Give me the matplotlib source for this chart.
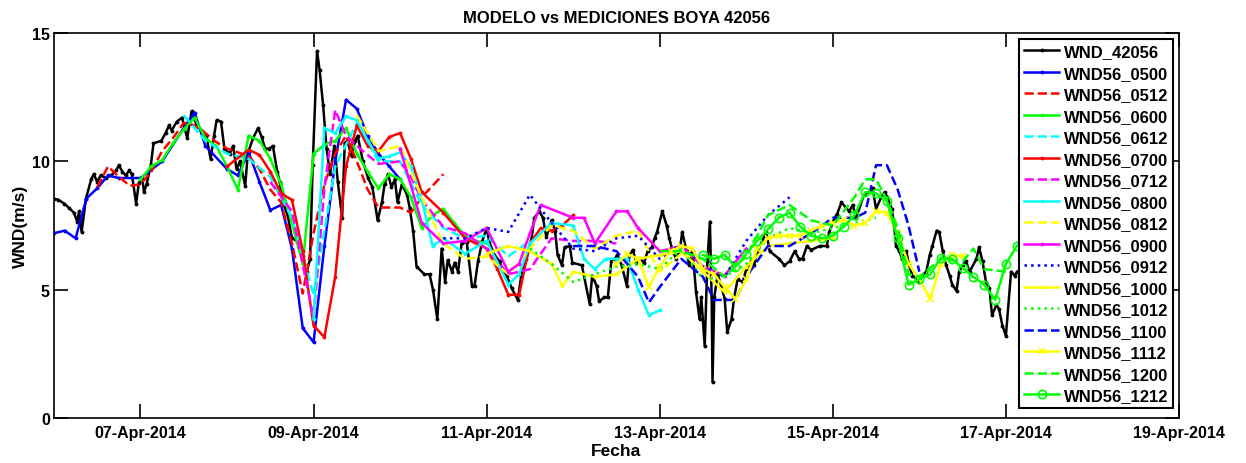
import datetime as dt
import numpy as np
import matplotlib
matplotlib.use("Agg")
import matplotlib.pyplot as plt
import matplotlib.dates as mdates

# ---------------- data ----------------
base = dt.datetime(2014, 4, 6)

# buoy observations: (days after 06-Apr-2014 00:00, wind m/s)
wnd_obs = [
    (0.00, 8.55), (0.05, 8.5), (0.12, 8.35), (0.17, 8.2), (0.23, 8.0), (0.27, 7.65), (0.29, 8.05),
    (0.32, 7.25), (0.37, 8.55), (0.43, 9.3), (0.46, 9.5), (0.50, 9.2), (0.54, 9.45), (0.60, 9.35),
    (0.66, 9.45), (0.72, 9.65), (0.75, 9.85), (0.79, 9.6), (0.83, 9.45), (0.87, 9.65), (0.90, 9.5),
    (0.95, 8.35), (0.98, 9.15), (1.02, 9.35), (1.04, 8.8), (1.07, 9.1), (1.12, 9.85), (1.15, 10.7),
    (1.24, 10.8), (1.29, 11.1), (1.33, 11.4), (1.36, 11.2), (1.42, 11.55), (1.48, 11.7), (1.54, 10.9),
    (1.59, 11.95), (1.65, 11.4), (1.71, 11.2), (1.76, 11.0), (1.81, 10.1), (1.85, 11.0), (1.88, 11.6),
    (1.93, 11.55), (1.97, 10.5), (2.03, 10.3), (2.07, 10.6), (2.11, 9.7), (2.15, 10.0), (2.21, 9.05),
    (2.24, 10.3), (2.30, 10.9), (2.36, 11.3), (2.40, 10.95), (2.44, 10.5), (2.49, 10.5), (2.53, 10.6),
    (2.58, 9.6), (2.61, 9.2), (2.64, 8.45), (2.70, 7.9), (2.75, 7.0), (2.81, 6.9), (2.84, 6.5),
    (2.88, 6.3), (2.92, 5.7), (2.96, 6.2), (2.99, 9.85), (3.04, 14.3), (3.07, 13.55), (3.11, 12.2),
    (3.15, 10.5), (3.19, 9.5), (3.24, 10.6), (3.28, 9.2), (3.33, 7.8), (3.36, 10.7), (3.39, 10.8),
    (3.44, 10.2), (3.48, 10.8), (3.51, 11.0), (3.57, 10.0), (3.63, 9.35), (3.68, 9.0), (3.74, 7.7),
    (3.79, 8.4), (3.82, 9.1), (3.86, 9.5), (3.90, 9.0), (3.94, 9.3), (3.97, 8.4), (4.02, 9.1),
    (4.08, 8.7), (4.11, 8.2), (4.15, 7.3), (4.19, 5.9), (4.28, 5.6), (4.34, 5.6), (4.38, 5.0),
    (4.43, 3.85), (4.48, 6.6), (4.52, 5.3), (4.55, 6.15), (4.60, 5.7), (4.63, 6.05), (4.67, 5.7),
    (4.71, 6.8), (4.77, 6.85), (4.83, 5.15), (4.86, 5.15), (4.90, 6.1), (4.95, 6.9), (5.00, 7.4),
    (5.03, 6.85), (5.09, 6.35), (5.15, 6.1), (5.18, 5.8), (5.23, 5.55), (5.29, 5.05), (5.36, 4.6),
    (5.40, 5.55), (5.46, 6.2), (5.52, 7.0), (5.55, 7.8), (5.61, 8.05), (5.65, 7.8), (5.69, 7.05),
    (5.75, 7.7), (5.79, 7.3), (5.82, 6.35), (5.87, 5.95), (5.90, 6.65), (5.96, 6.7), (5.99, 6.05),
    (6.10, 5.95), (6.19, 4.45), (6.22, 5.55), (6.27, 5.15), (6.30, 4.55), (6.36, 4.7), (6.40, 4.7),
    (6.44, 6.1), (6.48, 6.2), (6.51, 6.35), (6.56, 5.95), (6.62, 5.15), (6.65, 6.35), (6.69, 6.55),
    (6.73, 6.05), (6.77, 6.2), (6.82, 6.05), (6.86, 6.5), (6.91, 6.65), (6.94, 7.0), (6.97, 7.25),
    (7.03, 8.05), (7.08, 7.5), (7.11, 7.0), (7.15, 6.5), (7.19, 6.2), (7.23, 6.5), (7.26, 7.25),
    (7.31, 6.5), (7.34, 5.95), (7.38, 6.5), (7.42, 4.9), (7.46, 3.85), (7.48, 4.7), (7.52, 2.8),
    (7.55, 6.1), (7.58, 7.65), (7.60, 4.7), (7.61, 1.4), (7.63, 4.7), (7.67, 5.6), (7.71, 5.15),
    (7.75, 4.65), (7.78, 3.35), (7.83, 3.85), (7.86, 4.7), (7.90, 5.4), (7.96, 5.3), (8.00, 5.8),
    (8.06, 6.1), (8.09, 5.95), (8.13, 6.5), (8.18, 6.85), (8.23, 7.25), (8.27, 6.5), (8.38, 6.2),
    (8.44, 5.95), (8.50, 6.1), (8.56, 6.5), (8.61, 6.2), (8.65, 6.2), (8.70, 6.7), (8.75, 6.55),
    (8.85, 6.7), (8.93, 6.7), (8.96, 7.25), (9.02, 7.8), (9.05, 7.95), (9.10, 8.4), (9.19, 8.05),
    (9.23, 8.3), (9.27, 7.8), (9.36, 8.7), (9.42, 8.8), (9.46, 8.95), (9.50, 8.15), (9.56, 8.6),
    (9.60, 8.8), (9.63, 8.6), (9.68, 8.15), (9.71, 7.5), (9.73, 6.7), (9.77, 6.5), (9.80, 6.2),
    (9.85, 6.5), (9.88, 5.95), (9.92, 5.55), (9.97, 5.4), (10.00, 5.3), (10.03, 5.55), (10.08, 5.7),
    (10.12, 6.35), (10.15, 6.7), (10.20, 7.3), (10.23, 7.25), (10.27, 6.5), (10.31, 5.95),
    (10.35, 5.55), (10.38, 5.2), (10.43, 4.95), (10.46, 5.7), (10.50, 5.95), (10.54, 6.1),
    (10.58, 5.7), (10.66, 6.2), (10.69, 6.65), (10.73, 6.1), (10.77, 5.3), (10.81, 5.05),
    (10.84, 4.0), (10.89, 4.4), (10.92, 4.25), (10.96, 3.6), (11.00, 3.2), (11.06, 5.7),
    (11.10, 5.55), (11.13, 5.7),
]

# model runs: (hours after the run's first plotted time, wind m/s)
run_0500 = [(0, 7.2), (3, 7.3), (6, 7.0), (9, 8.55), (12, 8.95), (15, 9.45), (18, 9.35), (24, 9.35),
            (30, 10.0), (36, 11.3), (39, 11.9), (42, 10.6), (48, 9.7), (51, 9.45), (54, 10.35),
            (57, 9.2), (60, 8.1), (63, 8.3), (66, 6.6), (69, 3.5), (72, 2.95), (75, 6.7), (78, 10.0),
            (81, 12.4), (84, 12.05), (87, 11.0), (90, 10.3), (93, 9.8), (96, 9.3)]
run_0512 = [(0, 9.0), (3, 9.8), (6, 9.4), (9, 9.05), (12, 9.1), (15, 9.6), (18, 10.4), (21, 10.9),
            (24, 11.5), (27, 11.4), (30, 11.1), (33, 10.75), (36, 10.5), (42, 10.2), (45, 9.7),
            (48, 8.9), (51, 8.4), (54, 6.8), (57, 4.85), (60, 7.2), (63, 9.1), (66, 10.3), (69, 11.0),
            (72, 10.0), (75, 8.9), (78, 8.2), (81, 8.2), (84, 8.2), (87, 8.0), (90, 8.6), (93, 9.05),
            (96, 9.5)]
run_0600 = [(0, 9.3), (3, 9.8), (6, 10.05), (9, 10.7), (12, 11.25), (15, 11.7), (18, 10.9), (21, 10.6),
            (24, 9.8), (27, 8.9), (30, 11.0), (33, 10.8), (36, 10.1), (39, 9.1), (42, 7.6), (45, 6.0),
            (48, 10.3), (51, 10.65), (54, 10.8), (57, 11.3), (60, 10.3), (63, 9.6), (66, 8.95),
            (69, 9.5), (72, 9.3), (75, 8.6), (78, 7.4), (81, 7.9), (84, 8.15), (87, 7.6), (90, 7.1),
            (93, 6.9), (96, 6.8)]
run_0612 = [(0, 11.8), (6, 10.8), (12, 10.3), (18, 10.1), (24, 9.4), (30, 7.8), (36, 4.8), (42, 9.8),
            (48, 11.5), (54, 10.0), (60, 10.0), (66, 8.3), (72, 7.4), (78, 7.0), (84, 7.1), (90, 6.3),
            (96, 6.9)]
run_0700 = [(0, 9.8), (6, 10.45), (9, 10.25), (12, 9.6), (15, 8.75), (18, 8.5), (21, 6.5), (24, 3.6),
            (27, 3.15), (30, 5.5), (33, 9.8), (36, 11.4), (39, 10.6), (42, 10.4), (45, 10.95),
            (48, 11.1), (51, 10.1), (54, 8.8), (60, 8.0), (66, 7.0), (72, 6.6), (75, 5.8), (78, 4.8),
            (81, 4.8), (84, 6.8), (87, 7.4), (90, 7.3), (93, 7.5), (96, 7.9)]
run_0712 = [(0, 9.2), (6, 8.05), (12, 3.9), (15, 8.95), (18, 12.0), (21, 11.0), (24, 10.6), (30, 9.9),
            (36, 10.0), (39, 9.4), (42, 8.5), (48, 7.45), (54, 7.2), (60, 6.6), (66, 5.6), (72, 5.8),
            (78, 7.0), (84, 6.9), (90, 6.9), (96, 6.8)]
run_0800 = [(0, 3.85), (3, 11.3), (6, 11.1), (9, 11.75), (12, 11.6), (15, 10.8), (18, 10.1), (21, 10.2),
            (24, 10.35), (27, 9.8), (30, 8.5), (33, 6.7), (36, 7.0), (42, 6.4), (48, 6.9), (54, 5.2),
            (57, 5.6), (60, 6.8), (66, 7.6), (72, 7.5), (75, 6.2), (78, 5.8), (81, 6.2), (84, 6.2),
            (87, 6.2), (90, 5.0), (93, 4.0), (96, 4.2)]
run_0812 = [(0, 11.8), (6, 10.4), (12, 10.6), (18, 8.6), (24, 6.8), (30, 6.2), (36, 6.3), (42, 5.6),
            (48, 6.6), (54, 7.5), (60, 7.3), (66, 6.6), (72, 7.1), (78, 7.3), (84, 5.7), (90, 6.4),
            (96, 6.2)]
run_0900 = [(0, 10.5), (6, 7.6), (12, 6.8), (18, 6.9), (24, 7.4), (30, 5.7), (33, 6.0), (36, 7.2),
            (39, 8.3), (48, 7.8), (51, 7.8), (54, 6.8), (60, 8.05), (63, 8.05), (66, 7.4), (72, 6.5),
            (78, 6.7), (84, 5.9), (90, 5.55), (96, 6.6)]
run_0912 = [(0, 7.0), (6, 7.0), (12, 7.4), (18, 7.25), (24, 8.7), (30, 7.6), (36, 6.6), (42, 6.5),
            (48, 7.0), (54, 7.1), (60, 6.2), (66, 6.8), (72, 5.9), (78, 5.5), (84, 6.9), (90, 7.9),
            (96, 8.6)]
run_1000 = [(0, 6.4), (6, 6.7), (12, 6.5), (18, 6.0), (21, 5.15), (24, 5.7), (30, 5.5), (36, 5.6),
            (42, 6.2), (48, 6.35), (54, 6.5), (60, 5.7), (66, 4.9), (72, 5.9), (78, 6.7), (84, 6.8),
            (90, 6.9), (96, 7.0)]
run_1012 = [(0, 6.6), (6, 6.0), (12, 5.3), (18, 5.6), (24, 5.9), (30, 6.0), (36, 5.8), (42, 6.6),
            (48, 5.4), (54, 5.5), (60, 6.0), (66, 7.0), (72, 7.4), (78, 7.2), (84, 7.4), (90, 7.6),
            (96, 7.8)]
run_1100 = [(0, 6.7), (6, 6.7), (12, 6.5), (18, 5.5), (21, 4.5), (24, 5.1), (30, 6.2), (36, 5.5),
            (39, 4.6), (45, 4.6), (48, 5.5), (54, 6.7), (60, 6.7), (66, 7.2), (72, 7.8), (78, 7.8),
            (81, 8.0), (84, 9.85), (87, 9.85), (90, 8.9), (93, 7.5), (96, 5.7)]
run_1112 = [(0, 6.0), (3, 6.4), (6, 6.2), (9, 5.1), (12, 5.9), (15, 6.5), (18, 6.7), (21, 6.6),
            (24, 5.8), (27, 5.6), (30, 5.1), (33, 4.65), (36, 5.4), (39, 6.6), (42, 7.0), (45, 7.1),
            (48, 7.1), (51, 7.1), (54, 7.3), (57, 7.5), (60, 7.6), (63, 7.7), (66, 7.5), (69, 7.6),
            (72, 8.05), (75, 8.0), (78, 7.2), (81, 6.0), (84, 5.4), (87, 4.65), (90, 6.0), (93, 6.35),
            (96, 6.3)]
run_1200 = [(0, 6.5), (6, 6.5), (12, 6.2), (18, 5.5), (24, 6.3), (30, 7.9), (36, 8.3), (42, 7.7),
            (48, 7.5), (54, 8.6), (57, 9.3), (60, 9.3), (63, 8.5), (66, 7.4), (69, 5.6), (72, 5.5),
            (78, 6.2), (84, 6.1), (87, 6.6), (90, 5.8), (96, 5.7)]
run_1212 = [(0, 6.35), (3, 6.2), (6, 6.35), (9, 5.9), (12, 6.4), (15, 6.9), (18, 7.35), (21, 7.8),
            (24, 8.0), (27, 7.45), (30, 7.1), (33, 7.0), (36, 7.1), (39, 7.45), (42, 7.9), (45, 8.8),
            (48, 8.75), (51, 8.45), (54, 7.0), (57, 5.2), (60, 5.4), (63, 5.6), (66, 6.25), (69, 6.2),
            (72, 5.85), (75, 5.5), (78, 5.2), (81, 4.6), (84, 6.0), (87, 6.7), (90, 6.9), (93, 7.0),
            (96, 7.0)]

run_names = ["0500", "0512", "0600", "0612", "0700", "0712", "0800", "0812",
             "0900", "0912", "1000", "1012", "1100", "1112", "1200", "1212"]
run_data = [run_0500, run_0512, run_0600, run_0612, run_0700, run_0712, run_0800, run_0812,
            run_0900, run_0912, run_1000, run_1012, run_1100, run_1112, run_1200, run_1212]
# first plotted hour of each run, counted from 06-Apr-2014 00:00
run_start_h = [0, 12, 24, 36, 48, 60, 72, 84, 96, 108, 120, 132, 144, 156, 168, 180]

# matlab-like pure colours
BLU, RED, GRN, CYN, MAG, YEL = "#0000ff", "#ff0000", "#00ff00", "#00ffff", "#ff00ff", "#ffff00"
styles = [(BLU, "-", "."), (RED, "--", ""), (GRN, "-", "."), (CYN, "--", ""),
          (RED, "-", "."), (MAG, "--", ""), (CYN, "-", "."), (YEL, "--", ""),
          (MAG, "-", "."), (BLU, ":", ""), (YEL, "-", "."), (GRN, ":", ""),
          (BLU, "--", ""), (YEL, "-", "x"), (GRN, "--", ""), (GRN, "-", "o")]

# ---------------- plot ----------------
plt.rcParams["font.family"] = ["Liberation Sans", "DejaVu Sans"]
plt.rcParams["font.weight"] = "bold"

fig = plt.figure(figsize=(12.46, 4.64), dpi=100)
ax = fig.add_axes([0.0433, 0.097, 0.9029, 0.8297])

obs_t = [base + dt.timedelta(days=d) for d, _ in wnd_obs]
obs_v = [v for _, v in wnd_obs]
ax.plot(obs_t, obs_v, color="k", ls="-", marker=".", ms=3.5, lw=1.8, label="WND_42056")

for name, data, h0, (col, ls, mk) in zip(run_names, run_data, run_start_h, styles):
    t = [base + dt.timedelta(hours=h0 + h) for h, _ in data]
    v = [val for _, val in data]
    kw = dict(color=col, ls=ls, lw=1.8, label="WND56_" + name)
    if mk == "o":
        kw.update(marker="o", ms=6, mfc="none", mew=1.2)
    elif mk == "x":
        kw.update(marker="x", ms=5, mew=1.2)
    elif mk == ".":
        kw.update(marker=".", ms=3.5)
    ax.plot(t, v, **kw)

ax.set_xlim(base, base + dt.timedelta(days=13))
ax.set_ylim(0, 15)
ax.set_yticks([0, 5, 10, 15])
ax.xaxis.set_major_locator(mdates.DayLocator(bymonthday=[7, 9, 11, 13, 15, 17, 19]))
ax.xaxis.set_major_formatter(mdates.DateFormatter("%d-%b-%Y"))
ax.tick_params(direction="in", length=10, width=1.2, top=True, right=True, labelsize=11.5)
ax.tick_params(axis="x", pad=5)
ax.tick_params(axis="y", pad=3)
for lab in ax.get_xticklabels() + ax.get_yticklabels():
    lab.set_fontweight("bold")
for sp in ax.spines.values():
    sp.set_linewidth(1.2)

ax.set_title("MODELO vs MEDICIONES BOYA 42056", fontsize=12, fontweight="bold", pad=8)
ax.set_xlabel("Fecha", fontsize=12.5, fontweight="bold", labelpad=2)
ax.set_ylabel("WND(m/s)", fontsize=12.5, fontweight="bold", labelpad=3)

leg = ax.legend(loc="upper right", bbox_to_anchor=(0.9947, 0.984), borderaxespad=0,
                fancybox=False, framealpha=1, edgecolor="k",
                labelspacing=0.39, handlelength=2.1, handletextpad=0.25,
                borderpad=0.3, prop={"weight": "bold", "size": 12})
leg.get_frame().set_linewidth(1.5)

fig.savefig("out.png", dpi=100)
